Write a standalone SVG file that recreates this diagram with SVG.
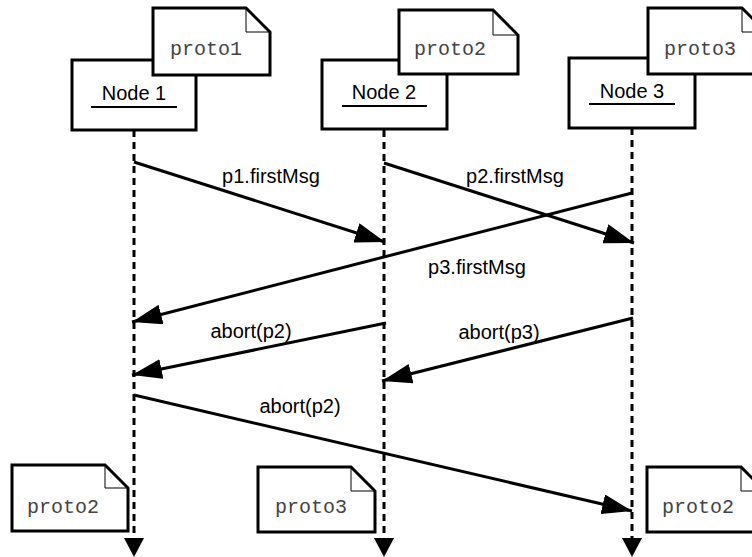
<svg xmlns="http://www.w3.org/2000/svg" width="752" height="557" viewBox="0 0 752 557">
<style>
.box{fill:#fff;stroke:#000;stroke-width:3}
.note{fill:#fff;stroke:#000;stroke-width:3;stroke-linejoin:miter}
.fold{fill:none;stroke:#000;stroke-width:1}
.life{stroke:#000;stroke-width:3;stroke-dasharray:7 5;fill:none}
.msg{stroke:#000;stroke-width:3;fill:none;marker-end:url(#ah)}
.lbl{font-family:"Liberation Sans",Arial,sans-serif;font-size:20px;fill:#000;text-anchor:middle}
.mono{font-family:"Liberation Mono","Courier New",monospace;font-size:20px;fill:#444;text-anchor:middle}
.ul{stroke:#000;stroke-width:2}
</style>
<defs>
<marker id="ah" markerUnits="userSpaceOnUse" viewBox="0 0 30 20" refX="30" refY="10" markerWidth="30" markerHeight="20" orient="auto">
<path d="M0,0 L30,10 L0,20 Z" fill="#000"/>
</marker>
</defs>
<g id="lifelines">
<line class="life" x1="134" y1="130" x2="134" y2="538"/>
<polygon points="124,538 144,538 134,557"/>
<line class="life" x1="384" y1="130" x2="384" y2="538"/>
<polygon points="374,538 394,538 384,557"/>
<line class="life" x1="632" y1="128" x2="632" y2="538"/>
<polygon points="622,538 642,538 632,557"/>
</g>
<g id="node1">
<rect class="box" x="72" y="60" width="124" height="70"/>
<text class="lbl" x="134" y="100">Node 1</text>
<line class="ul" x1="91" y1="107" x2="177" y2="107"/>
</g>
<g id="node2">
<rect class="box" x="322" y="60" width="125" height="69"/>
<text class="lbl" x="384" y="99">Node 2</text>
<line class="ul" x1="342" y1="106" x2="427" y2="106"/>
</g>
<g id="node3">
<rect class="box" x="569" y="58" width="126" height="70"/>
<text class="lbl" x="632" y="98">Node 3</text>
<line class="ul" x1="589" y1="104" x2="675" y2="104"/>
</g>
<g id="note-proto1-top">
<path class="note" d="M153,8 H246 L270,32 V75 H153 Z"/>
<path class="fold" d="M246,8 V32 H270"/>
<text class="mono" x="206" y="55">proto1</text>
</g>
<g id="note-proto2-top">
<path class="note" d="M399,10 H493 L518,35 V74 H399 Z"/>
<path class="fold" d="M493,10 V35 H518"/>
<text class="mono" x="450" y="55">proto2</text>
</g>
<g id="note-proto3-top">
<path class="note" d="M648,8 H742 L766,32 V74 H648 Z"/>
<path class="fold" d="M742,8 V32 H766"/>
<text class="mono" x="700" y="55">proto3</text>
</g>
<g id="note-proto2-bottom-left">
<path class="note" d="M12,465 H105 L128,488 V531 H12 Z"/>
<path class="fold" d="M105,465 V488 H128"/>
<text class="mono" x="63" y="513">proto2</text>
</g>
<g id="note-proto3-bottom">
<path class="note" d="M258,467 H351 L375,491 V532 H258 Z"/>
<path class="fold" d="M351,467 V491 H375"/>
<text class="mono" x="311" y="513">proto3</text>
</g>
<g id="note-proto2-bottom-right">
<path class="note" d="M647,467 H741 L765,491 V532 H647 Z"/>
<path class="fold" d="M741,467 V491 H765"/>
<text class="mono" x="698" y="513">proto2</text>
</g>
<g id="connectors">
<line class="msg" x1="134" y1="162" x2="385" y2="242"/>
<text class="lbl" x="271" y="183">p1.firstMsg</text>
<line class="msg" x1="384" y1="163" x2="634" y2="243"/>
<text class="lbl" x="515" y="183">p2.firstMsg</text>
<line class="msg" x1="632" y1="193" x2="132" y2="322"/>
<text class="lbl" x="477" y="274">p3.firstMsg</text>
<line class="msg" x1="386" y1="323" x2="132" y2="375"/>
<text class="lbl" x="251" y="338">abort(p2)</text>
<line class="msg" x1="633" y1="318" x2="382" y2="381"/>
<text class="lbl" x="499" y="339">abort(p3)</text>
<line class="msg" x1="134" y1="395" x2="632" y2="511"/>
<text class="lbl" x="300" y="413">abort(p2)</text>
</g>
</svg>
